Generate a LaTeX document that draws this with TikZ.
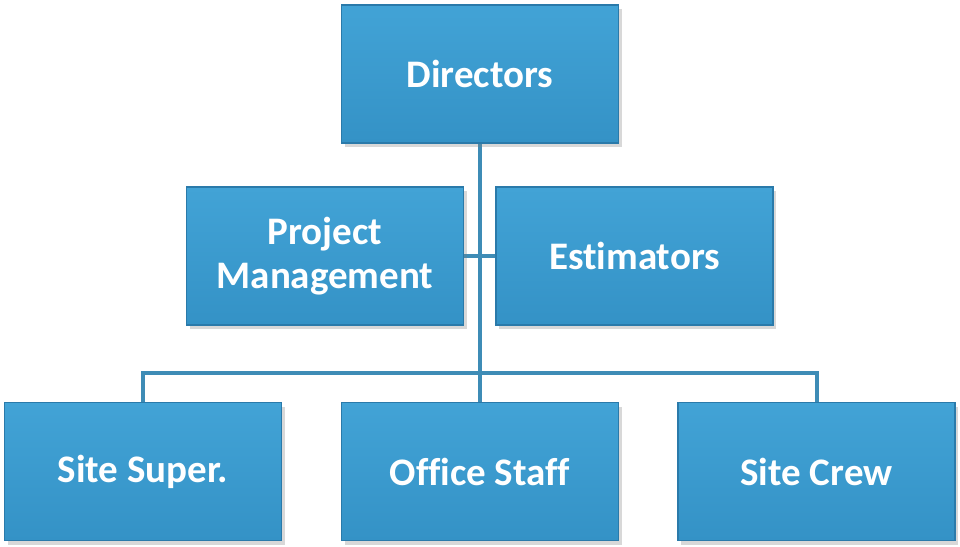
\documentclass[tikz,border=0pt]{standalone}
\usepackage{fontspec}
\setmainfont[Ligatures={NoCommon}]{Carlito}
\usetikzlibrary{shadows,backgrounds}
\definecolor{boxtop}{RGB}{66,163,214}
\definecolor{boxbot}{RGB}{52,146,198}
\definecolor{boxedge}{RGB}{42,122,170}
\definecolor{linec}{RGB}{62,140,182}
\tikzset{
  orgbox/.style={draw=boxedge, line width=1.2pt, top color=boxtop, bottom color=boxbot,
    minimum width=277pt, minimum height=138pt, inner sep=0pt, align=center,
    text=white, font=\fontsize{39}{44}\selectfont\bfseries,
    drop shadow={shadow xshift=3pt, shadow yshift=-4pt, opacity=0.3, fill=gray}},
  conn/.style={draw=linec, line width=4pt}
}
\begin{document}
\begin{tikzpicture}[x=1pt,y=-1pt]
\useasboundingbox (0,0) rectangle (960,546);
\node[orgbox] (dir) at (480,74) {Directors};
\node[orgbox] (pm) at (325,256) {Project\\Management};
\node[orgbox] (est) at (634.5,256) {Estimators};
\node[orgbox] (ss) at (143,471.5) {Site Super.};
\node[orgbox] (os) at (480,471.5) {Office Staff};
\node[orgbox] (sc) at (816.5,471.5) {Site Crew};
\coordinate (bus) at (480,373);
\begin{scope}[on background layer]
\fill[white] (0,0) rectangle (960,546);
\draw[conn] (dir.south) -- (os.north);
\draw[conn] (pm.east) -- (est.west);
\draw[conn] (ss.north) -- (ss.north |- bus) -- (sc.north |- bus) -- (sc.north);
\end{scope}
\end{tikzpicture}
\end{document}
